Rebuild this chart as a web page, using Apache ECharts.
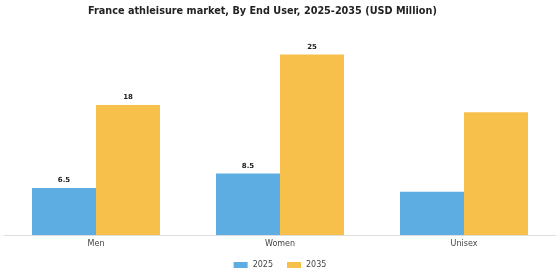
<!DOCTYPE html>
<html>
<head>
<meta charset="utf-8">
<script src="https://cdn.jsdelivr.net/npm/echarts@6/dist/echarts.min.js"></script>
<style>
  html,body{margin:0;padding:0;background:#fff;}
  #chart{width:560px;height:280px;}
</style>
</head>
<body>
<div id="chart"></div>
<script>
const categories = ["Men", "Women", "Unisex"]
const values2025 = [6.5, 8.5, 6.0]
const values2035 = [18, 25, 17]
// which categories carry value labels in the picture
const showLabels = [true, true, false]

const chart = echarts.init(document.getElementById("chart"))

const labelFor = () => ({
    show: true,
    position: "top",
    distance: 4,
    fontSize: 7,
    fontWeight: "bold",
    color: "#222",
    fontFamily: "DejaVu Sans",
    formatter: p => showLabels[p.dataIndex] ? String(p.value) : ""
})

const option = {
    animation: false,
    title: {
        text: "France athleisure market, By End User, 2025-2035 (USD Million)",
        left: 83,
        top: 1,
        textStyle: {fontSize: 9.7, fontWeight: "bold", color: "#222", fontFamily: "DejaVu Sans"}
    },
    legend: {
        data: ["2025", "2035"],
        bottom: 6,
        left: "center",
        itemWidth: 14,
        itemHeight: 6,
        itemGap: 14,
        icon: "rect",
        textStyle: {fontSize: 8, color: "#444", fontFamily: "DejaVu Sans"}
    },
    grid: {left: 4, right: 4, top: 40, bottom: 45},
    xAxis: {
        type: "category",
        data: categories,
        axisLine: {lineStyle: {color: "#ddd"}},
        axisTick: {show: false},
        axisLabel: {fontSize: 8, color: "#444", margin: 5, fontFamily: "DejaVu Sans"}
    },
    yAxis: {
        type: "value",
        min: 0,
        max: 27,
        show: false,
        splitLine: {show: false}
    },
    series: [
        {
            name: "2025",
            type: "bar",
            data: values2025,
            barWidth: 64,
            barGap: "0%",
            itemStyle: {color: "#5dade2"},
            label: labelFor()
        },
        {
            name: "2035",
            type: "bar",
            data: values2035,
            barWidth: 64,
            itemStyle: {color: "#f7c04a"},
            label: labelFor()
        }
    ]
}

chart.setOption(option)
</script>
</body>
</html>
